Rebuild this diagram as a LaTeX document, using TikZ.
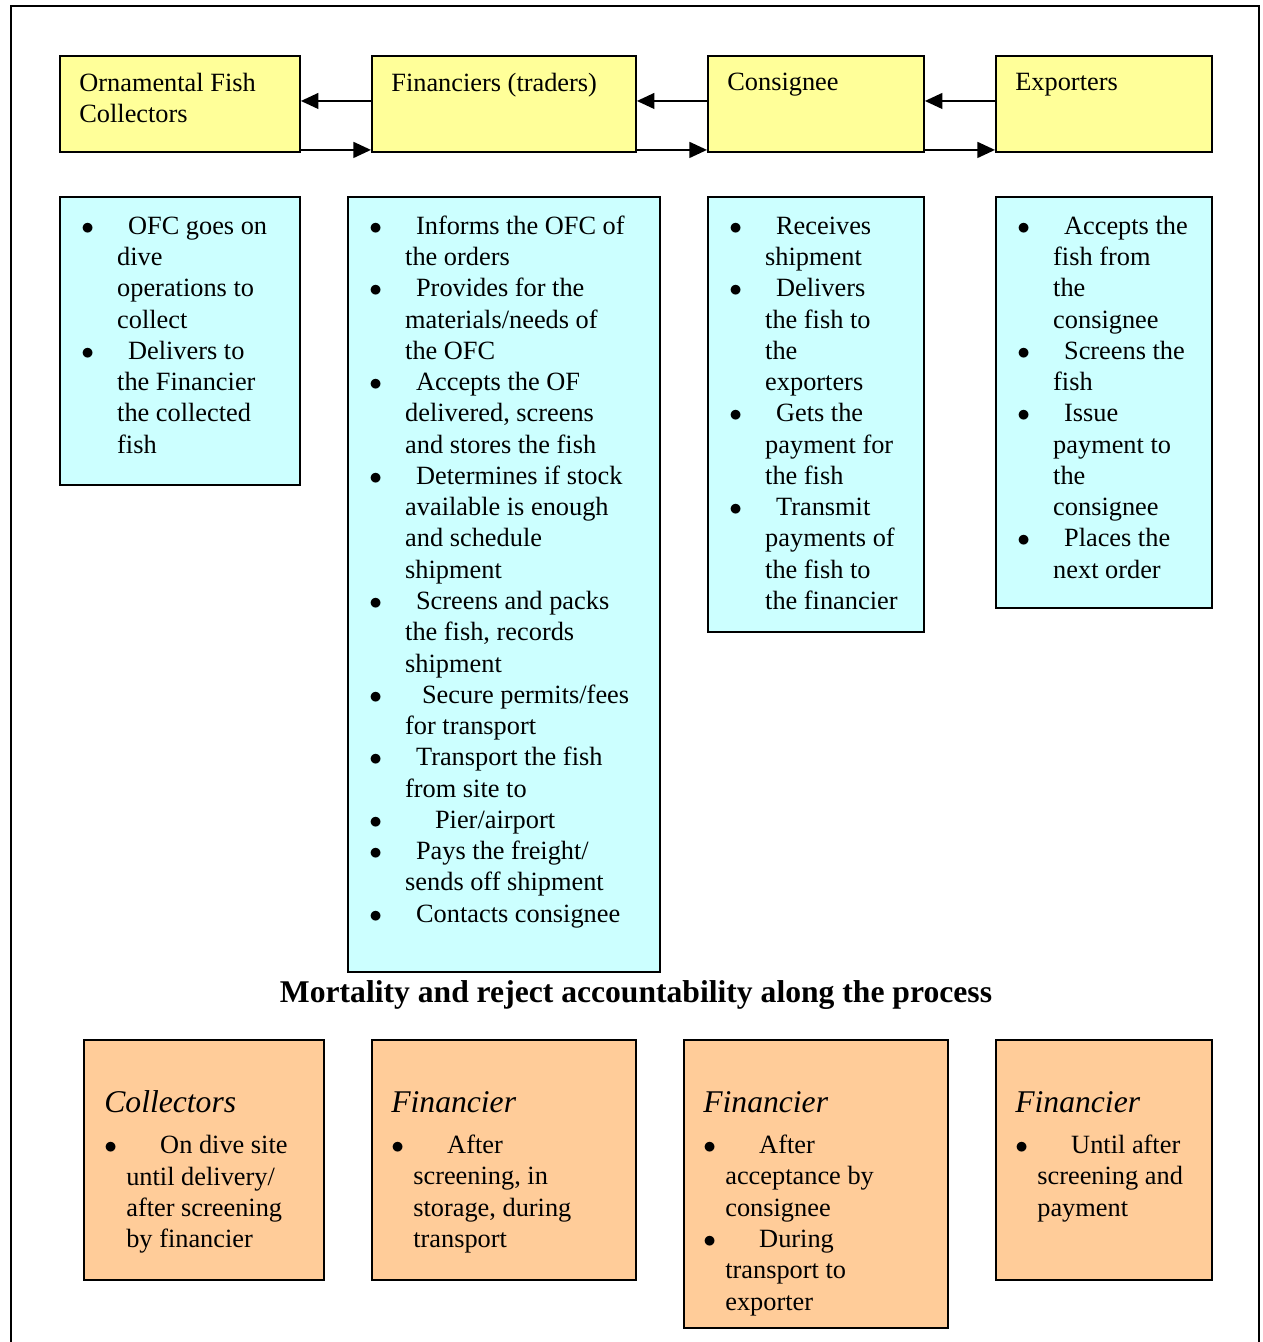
\documentclass[tikz,border=0pt]{standalone}
\usepackage{fontspec}
\setmainfont{Liberation Serif}
\usetikzlibrary{arrows.meta}

\definecolor{actorfill}{HTML}{FFFF99}
\definecolor{taskfill}{HTML}{CCFFFF}
\definecolor{lossfill}{HTML}{FFCC99}
\newcommand{\itemfont}{\fontsize{15}{17.8}\selectfont}
\newcommand{\headfont}{\fontsize{18}{21}\selectfont\itshape}
\newcommand{\bul}{$\bullet$}

\begin{document}
\begin{tikzpicture}[x=0.02cm,y=-0.02cm,
  box/.style={draw,line width=1.1pt,anchor=north west,inner sep=0pt},
  actor/.style={box,fill=actorfill,minimum height=1.92cm},
  task/.style={box,fill=taskfill},
  loss/.style={box,fill=lossfill},
  lst/.style={anchor=north west,inner sep=0pt,font=\itemfont,align=left},
  arr/.style={line width=1.1pt,-{Triangle[length=10pt,width=9pt]}}]
  \useasboundingbox (0,0) rectangle (1263,1342);
  % outer frame
  \draw[line width=1.1pt] (11,1342) -- (11,6) -- (1259,6) -- (1259,1342);

  % actors
  \node[actor,minimum width=4.8cm] (ofc) at (59,55) {};
  \node[actor,minimum width=5.28cm] (fin) at (371,55) {};
  \node[actor,minimum width=4.32cm] (cons) at (707,55) {};
  \node[actor,minimum width=4.32cm] (exp) at (995,55) {};
  \node[lst] (ofct) at (79,73) {Ornamental Fish\\Collectors};
  \node[lst] (fint) at (391,73) {Financiers (traders)};
  \node[lst] (const) at (727,73) {Consignee};
  \node[lst] (expt) at (1015,73) {Exporters};

  \draw[arr] ([yshift=1.7pt]fin.west) -- ([yshift=1.7pt]fin.west -| ofc.east);
  \draw[arr] ([yshift=1.7pt]ofc.south east) -- ([yshift=1.7pt]ofc.south east -| fin.west);
  \draw[arr] ([yshift=1.7pt]cons.west) -- ([yshift=1.7pt]cons.west -| fin.east);
  \draw[arr] ([yshift=1.7pt]fin.south east) -- ([yshift=1.7pt]fin.south east -| cons.west);
  \draw[arr] ([yshift=1.7pt]exp.west) -- ([yshift=1.7pt]exp.west -| cons.east);
  \draw[arr] ([yshift=1.7pt]cons.south east) -- ([yshift=1.7pt]cons.south east -| exp.west);

  % tasks
  \node[task,minimum width=4.8cm,minimum height=5.76cm] (ofcjob) at (59,196) {};
  \node[task,minimum width=6.24cm,minimum height=15.5cm] (finjob) at (347,196) {};
  \node[task,minimum width=4.32cm,minimum height=8.7cm] (consjob) at (707,196) {};
  \node[task,minimum width=4.32cm,minimum height=8.22cm] (expjob) at (995,196) {};

  \node[lst] (ofcl) at (81,212) {\begin{tabular}{@{}p{20.4pt}@{}l@{}}
    \bul & \hspace{6.2pt}OFC goes on\\
     & dive\\
     & operations to\\
     & collect\\
    \bul & \hspace{6.2pt}Delivers to\\
     & the Financier\\
     & the collected\\
     & fish
  \end{tabular}};
  \node[lst] (finl) at (369,212) {\begin{tabular}{@{}p{20.4pt}@{}l@{}}
    \bul & \hspace{6.2pt}Informs the OFC of\\
     & the orders\\
    \bul & \hspace{6.2pt}Provides for the\\
     & materials/needs of\\
     & the OFC\\
    \bul & \hspace{6.2pt}Accepts the OF\\
     & delivered, screens\\
     & and stores the fish\\
    \bul & \hspace{6.2pt}Determines if stock\\
     & available is enough\\
     & and schedule\\
     & shipment\\
    \bul & \hspace{6.2pt}Screens and packs\\
     & the fish, records\\
     & shipment\\
    \bul & \hspace{9.6pt}Secure permits/fees\\
     & for transport\\
    \bul & \hspace{6.2pt}Transport the fish\\
     & from site to\\
    \bul & \hspace{17pt}Pier/airport\\
    \bul & \hspace{6.2pt}Pays the freight/\\
     & sends off shipment\\
    \bul & \hspace{6.2pt}Contacts consignee
  \end{tabular}};
  \node[lst] (consl) at (729,212) {\begin{tabular}{@{}p{20.4pt}@{}l@{}}
    \bul & \hspace{6.2pt}Receives\\
     & shipment\\
    \bul & \hspace{6.2pt}Delivers\\
     & the fish to\\
     & the\\
     & exporters\\
    \bul & \hspace{6.2pt}Gets the\\
     & payment for\\
     & the fish\\
    \bul & \hspace{6.2pt}Transmit\\
     & payments of\\
     & the fish to\\
     & the financier
  \end{tabular}};
  \node[lst] (expl) at (1017,212) {\begin{tabular}{@{}p{20.4pt}@{}l@{}}
    \bul & \hspace{6.2pt}Accepts the\\
     & fish from\\
     & the\\
     & consignee\\
    \bul & \hspace{6.2pt}Screens the\\
     & fish\\
    \bul & \hspace{6.2pt}Issue\\
     & payment to\\
     & the\\
     & consignee\\
    \bul & \hspace{6.2pt}Places the\\
     & next order
  \end{tabular}};

  \node[font=\fontsize{18}{21}\selectfont\bfseries] (title) at (636,995)
    {Mortality and reject accountability along the process};

  % losses
  \node[loss,minimum width=4.8cm,minimum height=4.8cm] (ofcloss) at (83,1039) {};
  \node[loss,minimum width=5.28cm,minimum height=4.8cm] (finloss) at (371,1039) {};
  \node[loss,minimum width=5.28cm,minimum height=5.76cm] (consloss) at (683,1039) {};
  \node[loss,minimum width=4.32cm,minimum height=4.8cm] (exploss) at (995,1039) {};

  \node[lst] (ofclossl) at (104,1090) {\begin{tabular}{@{}p{12.5pt}@{}l@{}}
    \multicolumn{2}{@{}l@{}}{\headfont Collectors}\\[5.8pt]
    \bul & \hspace{19.3pt}On dive site\\
     & until delivery/\\
     & after screening\\
     & by financier
  \end{tabular}};
  \node[lst] (finlossl) at (391,1090) {\begin{tabular}{@{}p{12.5pt}@{}l@{}}
    \multicolumn{2}{@{}l@{}}{\headfont Financier}\\[5.8pt]
    \bul & \hspace{19.3pt}After\\
     & screening, in\\
     & storage, during\\
     & transport
  \end{tabular}};
  \node[lst] (conslossl) at (703,1090) {\begin{tabular}{@{}p{12.5pt}@{}l@{}}
    \multicolumn{2}{@{}l@{}}{\headfont Financier}\\[5.8pt]
    \bul & \hspace{19.3pt}After\\
     & acceptance by\\
     & consignee\\
    \bul & \hspace{19.3pt}During\\
     & transport to\\
     & exporter
  \end{tabular}};
  \node[lst] (explossl) at (1015,1090) {\begin{tabular}{@{}p{12.5pt}@{}l@{}}
    \multicolumn{2}{@{}l@{}}{\headfont Financier}\\[5.8pt]
    \bul & \hspace{19.3pt}Until after\\
     & screening and\\
     & payment
  \end{tabular}};
\end{tikzpicture}
\end{document}
